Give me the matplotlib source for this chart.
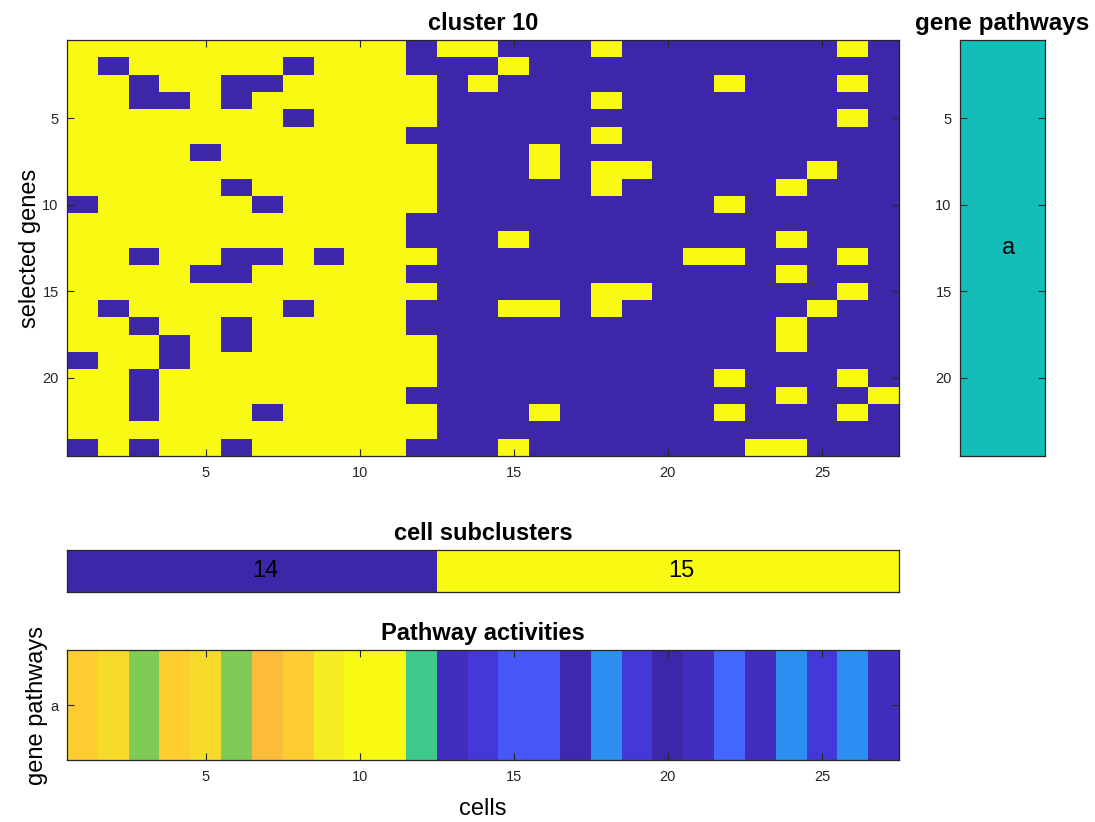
import matplotlib
matplotlib.use('Agg')
import matplotlib.pyplot as plt
import numpy as np
from matplotlib.colors import LinearSegmentedColormap

plt.rcParams['font.family'] = ['Liberation Sans', 'DejaVu Sans']

# expression pattern of the selected genes (rows) across cells (cols), 1 = on
gene_rows = [
    "111111111110110001000000010",
    "101111101110001000000000000",
    "110110011111010000000100010",
    "110010111111000001000000000",
    "111111101111000000000000010",
    "111111111110000001000000000",
    "111101111111000100000000000",
    "111111111111000101100000100",
    "111110111111000001000001000",
    "011111011111000000000100000",
    "111111111110000000000000000",
    "111111111110001000000001000",
    "110110010111000000001100010",
    "111100111110000000000001000",
    "111111111111000001100000010",
    "101111101110001101000000100",
    "110110111110000000000001000",
    "111010111111000000000001000",
    "011011111111000000000000000",
    "110111111111000000000100010",
    "110111111110000000000001001",
    "110111011111000100000100010",
    "111111111111000000000000000",
    "010110111110001000000011000",
]

gene_pathway = [1] * 24
pathway_names = ['a']

subclusters = [14, 14, 14, 14, 14, 14, 14, 14, 14, 14, 14, 14,
               15, 15, 15, 15, 15, 15, 15, 15, 15, 15, 15, 15, 15, 15, 15]

activity = [0.88, 0.915, 0.667, 0.885, 0.915, 0.667, 0.833, 0.88, 0.96,
            1.0, 1.0, 0.587, 0.035, 0.073, 0.16, 0.16, 0.01, 0.31, 0.073,
            0.0, 0.035, 0.20, 0.035, 0.31, 0.073, 0.31, 0.035]

# matlab parula (64 entries)
parula_rgb = [
    (0.2422, 0.1504, 0.6603), (0.2504, 0.1650, 0.7076), (0.2578, 0.1818, 0.7511), (0.2647, 0.1978, 0.7952),
    (0.2706, 0.2147, 0.8364), (0.2751, 0.2342, 0.8710), (0.2783, 0.2559, 0.8991), (0.2803, 0.2782, 0.9221),
    (0.2813, 0.3006, 0.9414), (0.2810, 0.3228, 0.9579), (0.2795, 0.3447, 0.9717), (0.2760, 0.3667, 0.9829),
    (0.2699, 0.3892, 0.9906), (0.2602, 0.4123, 0.9952), (0.2440, 0.4358, 0.9988), (0.2206, 0.4603, 0.9973),
    (0.1963, 0.4847, 0.9892), (0.1834, 0.5074, 0.9798), (0.1786, 0.5289, 0.9682), (0.1764, 0.5499, 0.9520),
    (0.1687, 0.5703, 0.9359), (0.1540, 0.5902, 0.9218), (0.1460, 0.6091, 0.9079), (0.1380, 0.6276, 0.8973),
    (0.1248, 0.6459, 0.8883), (0.1113, 0.6635, 0.8763), (0.0952, 0.6798, 0.8598), (0.0689, 0.6948, 0.8394),
    (0.0297, 0.7082, 0.8163), (0.0036, 0.7203, 0.7917), (0.0067, 0.7312, 0.7660), (0.0433, 0.7411, 0.7394),
    (0.0964, 0.7500, 0.7120), (0.1408, 0.7584, 0.6842), (0.1717, 0.7670, 0.6554), (0.1938, 0.7758, 0.6251),
    (0.2161, 0.7843, 0.5923), (0.2470, 0.7918, 0.5567), (0.2906, 0.7973, 0.5188), (0.3406, 0.8008, 0.4789),
    (0.3909, 0.8029, 0.4354), (0.4456, 0.8024, 0.3909), (0.5044, 0.7993, 0.3480), (0.5616, 0.7942, 0.3045),
    (0.6174, 0.7876, 0.2612), (0.6720, 0.7793, 0.2227), (0.7242, 0.7698, 0.1910), (0.7738, 0.7598, 0.1646),
    (0.8203, 0.7498, 0.1535), (0.8634, 0.7406, 0.1596), (0.9035, 0.7330, 0.1774), (0.9393, 0.7288, 0.2100),
    (0.9728, 0.7298, 0.2394), (0.9956, 0.7434, 0.2371), (0.9970, 0.7659, 0.2199), (0.9952, 0.7893, 0.2028),
    (0.9892, 0.8136, 0.1885), (0.9786, 0.8386, 0.1766), (0.9676, 0.8639, 0.1643), (0.9610, 0.8890, 0.1537),
    (0.9597, 0.9135, 0.1423), (0.9628, 0.9373, 0.1265), (0.9691, 0.9606, 0.1060), (0.9769, 0.9839, 0.0805),
]
parula = LinearSegmentedColormap.from_list('parula', parula_rgb, N=256)

expr = np.array([[int(ch) for ch in row] for row in gene_rows])
n_genes, n_cells = expr.shape

dark = '#262626'


def style_axes(ax):
    for s in ax.spines.values():
        s.set_color(dark)
        s.set_linewidth(0.9)
    ax.tick_params(direction='in', length=5, width=0.8, top=True, right=True,
                   labeltop=False, labelright=False, colors=dark, labelsize=10.5)
    ax.tick_params(axis='x', pad=7)
    ax.tick_params(axis='y', pad=6)


fig = plt.figure(figsize=(10.95, 8.22), dpi=100)

# main heatmap
ax = fig.add_axes([0.0612, 0.4453, 0.7598, 0.506])
ax.imshow(expr, cmap=parula, aspect='auto', interpolation='nearest',
          extent=[0.5, n_cells + 0.5, n_genes + 0.5, 0.5])
ax.set_xticks([5, 10, 15, 20, 25])
ax.set_yticks([5, 10, 15, 20])
ax.set_title('cluster 10', fontsize=17, fontweight='bold', pad=7)
ax.set_ylabel('selected genes', fontsize=17, labelpad=1)
style_axes(ax)

# gene pathways
axg = fig.add_axes([0.8767, 0.4453, 0.0776, 0.506])
axg.imshow(np.array(gene_pathway).reshape(-1, 1), cmap=parula, vmin=0, vmax=2,
           aspect='auto', interpolation='nearest',
           extent=[0.5, 1.5, n_genes + 0.5, 0.5])
axg.set_xticks([])
axg.set_yticks([5, 10, 15, 20])
axg.text(1, np.mean(np.arange(1, n_genes + 1)), pathway_names[0], fontsize=17,
         ha='left', va='center', color='black')
axg.set_title('gene pathways', fontsize=17.5, fontweight='bold', pad=7)
style_axes(axg)

# cell subclusters
axs = fig.add_axes([0.0612, 0.2798, 0.7598, 0.0511])
sub = np.array(subclusters)
axs.imshow(sub.reshape(1, -1), cmap=parula, aspect='auto', interpolation='nearest',
           extent=[0.5, n_cells + 0.5, 1.5, 0.5])
for c in np.unique(sub):
    idx = np.where(sub == c)[0] + 1
    axs.text(idx.mean(), 1, str(c), fontsize=17, ha='left', va='center', color='black')
axs.set_xticks([])
axs.set_yticks([])
axs.set_title('cell subclusters', fontsize=17, fontweight='bold', pad=7)
style_axes(axs)

# pathway activities
axp = fig.add_axes([0.0612, 0.0754, 0.7598, 0.1338])
axp.imshow(np.array(activity).reshape(1, -1), cmap=parula, vmin=0, vmax=1,
           aspect='auto', interpolation='nearest',
           extent=[0.5, n_cells + 0.5, 1.5, 0.5])
axp.set_xticks([5, 10, 15, 20, 25])
axp.set_yticks([1])
axp.set_yticklabels(pathway_names)
axp.set_title('Pathway activities', fontsize=17, fontweight='bold', pad=7)
axp.set_xlabel('cells', fontsize=17, labelpad=10)
axp.set_ylabel('gene pathways', fontsize=17, labelpad=2)
style_axes(axp)

fig.savefig('out.png', dpi=100)
